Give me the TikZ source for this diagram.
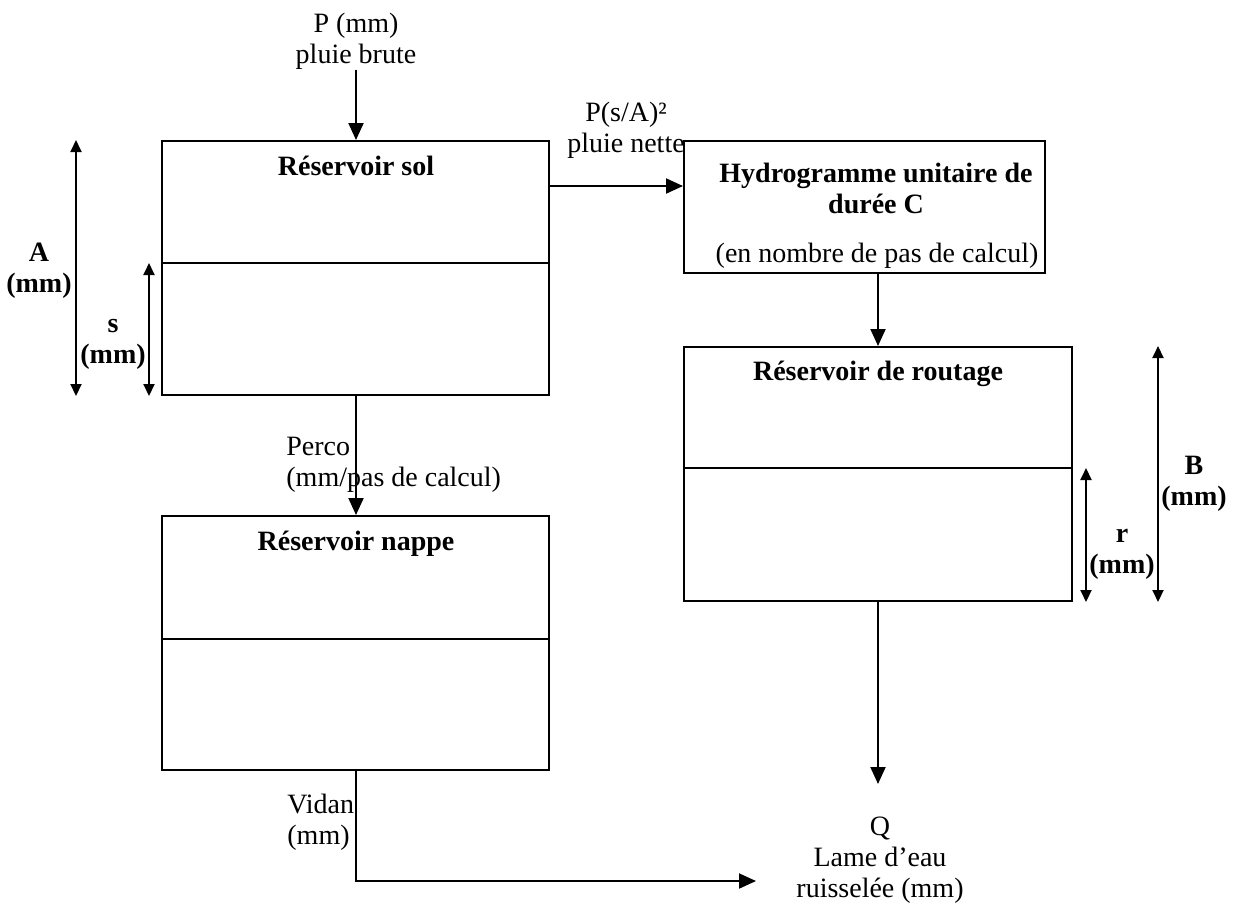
\documentclass[tikz,border=0pt]{standalone}
\usepackage{fontspec}
\setmainfont{Liberation Serif}
\usetikzlibrary{arrows.meta}
\begin{document}
\begin{tikzpicture}[x=0.5pt,y=-0.5pt,
  font=\fontsize{14}{15.5}\selectfont,
  resbox/.style={draw,line width=1pt,inner sep=0pt},
  lbl/.style={inner sep=0pt,align=center},
  ttl/.style={inner sep=0pt,font=\fontsize{14}{15.5}\selectfont\bfseries},
  bl/.style={inner sep=0pt,align=center,font=\fontsize{14}{15.5}\selectfont\bfseries},
  flow/.style={line width=1pt,-{Triangle[length=8.5pt,width=7.5pt]}},
  dim/.style={line width=1pt,{Triangle[length=6pt,width=5.5pt]}-{Triangle[length=6pt,width=5.5pt]}},
  sep/.style={line width=1pt}]
\useasboundingbox (0,0) rectangle (1236,907);

% boxes
\node[resbox,minimum width=193.5pt,minimum height=127pt] (sol) at (355.5,268) {};
\node[resbox,minimum width=180.5pt,minimum height=66pt] (hydro) at (864.5,207) {};
\node[resbox,minimum width=194pt,minimum height=127pt] (rout) at (878,474) {};
\node[resbox,minimum width=193.5pt,minimum height=127pt] (nappe) at (355.5,643) {};

% dividers
\draw[sep] ([yshift=66.5pt]sol.south west) -- ([yshift=66.5pt]sol.south east);
\draw[sep] ([yshift=67pt]rout.south west) -- ([yshift=67pt]rout.south east);
\draw[sep] ([yshift=66pt]nappe.south west) -- ([yshift=66pt]nappe.south east);

% titles
\node[ttl,anchor=base] (solT) at (356,175) {Réservoir sol};
\node[bl] (hydroT) at (876,188) {Hydrogramme unitaire de\\durée C};
\node[lbl] (hydroN) at (877,255.5) {(en nombre de pas de calcul)};
\node[ttl,anchor=base] (routT) at (878,380) {Réservoir de routage};
\node[ttl,anchor=base] (nappeT) at (356,550) {Réservoir nappe};

% labels
\node[lbl] (P) at (356,41) {P (mm)\\pluie brute};
\node[lbl] (net) at (626,130) {P(s/A)²\\pluie nette};
\node[lbl,align=left,anchor=west] (perco) at (286,465) {Perco\\(mm/pas de calcul)};
\node[lbl,align=left,anchor=west] (vidan) at (287,822) {Vidan\\(mm)};
\node[lbl] (Q) at (880,860) {Q\\Lame d’eau\\ruisselée (mm)};
\node[bl] (Alab) at (39,271) {A\\(mm)};
\node[bl] (slab) at (113,344) {s\\(mm)};
\node[bl] (Blab) at (1194,484) {B\\(mm)};
\node[bl] (rlab) at (1122,554) {r\\(mm)};

% flows
\draw[flow] (P.south) -- (P.south |- sol.north);
\draw[flow] ([yshift=-23pt]sol.north east) -- ([yshift=-23pt]hydro.north west);
\draw[flow] (hydro.south -| rout.north) -- (rout.north);
\draw[flow] (P.south |- sol.south) -- (P.south |- nappe.north);
\coordinate (qtop) at ([yshift=-91pt]rout.south);
\draw[flow] (rout.south) -- (qtop);
\coordinate (qleft) at (756,881);
\draw[flow] (P.south |- nappe.south) |- (qleft);

% dimensions
\draw[dim] ([xshift=-42.5pt]sol.north west) -- ([xshift=-42.5pt]sol.south west);
\draw[dim] ([xshift=-6pt,yshift=66.5pt]sol.south west) -- ([xshift=-6pt]sol.south west);
\draw[dim] ([xshift=42.5pt]rout.north east) -- ([xshift=42.5pt]rout.south east);
\draw[dim] ([xshift=6.5pt,yshift=67pt]rout.south east) -- ([xshift=6.5pt]rout.south east);
\end{tikzpicture}
\end{document}
